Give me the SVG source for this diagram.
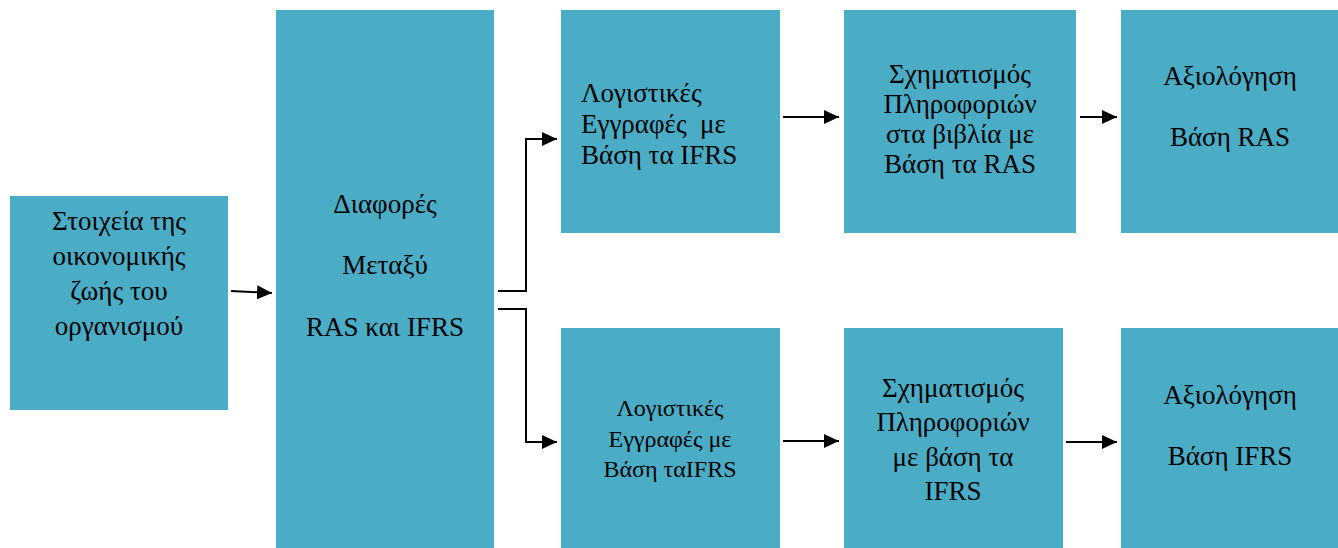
<svg xmlns="http://www.w3.org/2000/svg" width="1338" height="548" viewBox="0 0 1338 548">
<style>
.box{fill:#4BACC6;}
.t{font-family:'Liberation Serif','Times New Roman',serif;font-size:27px;fill:#000;}
.c{text-anchor:middle;}
.s{font-size:24px;}
.conn{fill:none;stroke:#000;stroke-width:2;}
</style>
<defs>
<marker id="ah" markerUnits="userSpaceOnUse" markerWidth="16" markerHeight="14" refX="15" refY="7" orient="auto">
<path d="M0,0 L15,7 L0,14 z" fill="#000"/>
</marker>
</defs>
<rect width="1338" height="548" fill="#fff"/>
<g id="n1">
<rect class="box" x="10" y="196" width="218" height="214"/>
<text class="t c" x="119"><tspan x="119" y="230">Στοιχεία της</tspan><tspan x="119" y="265">οικονομικής</tspan><tspan x="119" y="300">ζωής του</tspan><tspan x="119" y="335">οργανισμού</tspan></text>
</g>
<g id="n2">
<rect class="box" x="276" y="10" width="218" height="538"/>
<text class="t c" x="385"><tspan x="385" y="213">Διαφορές</tspan><tspan x="385" y="274">Μεταξύ</tspan><tspan x="385" y="336">RAS και IFRS</tspan></text>
</g>
<g id="n3">
<rect class="box" x="561" y="10" width="219" height="223"/>
<text class="t" x="581" xml:space="preserve"><tspan x="581" y="102">Λογιστικές</tspan><tspan x="581" y="133">Εγγραφές  με</tspan><tspan x="581" y="164">Βάση τα IFRS</tspan></text>
</g>
<g id="n4">
<rect class="box" x="844" y="10" width="232" height="223"/>
<text class="t c" x="960"><tspan x="960" y="83">Σχηματισμός</tspan><tspan x="960" y="113">Πληροφοριών</tspan><tspan x="960" y="143">στα βιβλία με</tspan><tspan x="960" y="173">Βάση τα RAS</tspan></text>
</g>
<g id="n5">
<rect class="box" x="1121" y="10" width="217" height="223"/>
<text class="t c" x="1230"><tspan x="1230" y="85">Αξιολόγηση</tspan><tspan x="1230" y="146">Βάση RAS</tspan></text>
</g>
<g id="n6">
<rect class="box" x="561" y="328" width="219" height="220"/>
<text class="t s c" x="670"><tspan x="670" y="416">Λογιστικές</tspan><tspan x="670" y="447">Εγγραφές με</tspan><tspan x="670" y="477">Βάση ταIFRS</tspan></text>
</g>
<g id="n7">
<rect class="box" x="844" y="328" width="219" height="220"/>
<text class="t c" x="953"><tspan x="953" y="397">Σχηματισμός</tspan><tspan x="953" y="431">Πληροφοριών</tspan><tspan x="953" y="466">με βάση τα</tspan><tspan x="953" y="500">IFRS</tspan></text>
</g>
<g id="n8">
<rect class="box" x="1121" y="328" width="217" height="220"/>
<text class="t c" x="1230"><tspan x="1230" y="404">Αξιολόγηση</tspan><tspan x="1230" y="465">Βάση IFRS</tspan></text>
</g>
<g id="connectors">
<path class="conn" d="M231,291 L272,293" marker-end="url(#ah)"/>
<path class="conn" d="M498,291 H526 V139 H557" marker-end="url(#ah)"/>
<path class="conn" d="M498,309 H526 V442 H557" marker-end="url(#ah)"/>
<path class="conn" d="M783,117 H839" marker-end="url(#ah)"/>
<path class="conn" d="M1080,117 H1117" marker-end="url(#ah)"/>
<path class="conn" d="M783,441 H839" marker-end="url(#ah)"/>
<path class="conn" d="M1066,442 H1117" marker-end="url(#ah)"/>
</g>
</svg>
